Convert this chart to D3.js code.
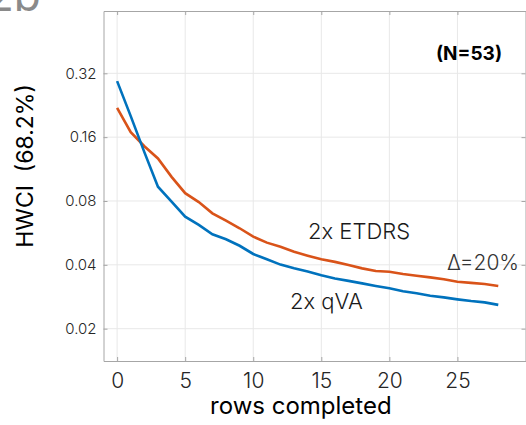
<!DOCTYPE html>
<html>
<head>
<meta charset="utf-8">
<script src="https://cdn.jsdelivr.net/npm/d3@7"></script>
<style>
    body { margin: 0; background: #fff; }
    text { font-family: Inter, "DejaVu Sans", sans-serif; }
</style>
</head>
<body>
<div id="dataviz"></div>
<script>
"use strict";

// Data
var rows = [0, 1, 2, 3, 4, 5, 6, 7, 8, 9, 10, 11, 12, 13, 14, 15, 16, 17, 18, 19, 20, 21, 22, 23, 24, 25, 26, 27, 28];
var qvaHwci = [0.294, 0.201, 0.136, 0.0934, 0.0794, 0.0675, 0.0617, 0.0557, 0.0528, 0.0492, 0.0450, 0.0425, 0.0401, 0.0385, 0.0372,
    0.0357, 0.0345, 0.0336, 0.0327, 0.0318, 0.0310, 0.0300, 0.0294, 0.0286, 0.0281, 0.0275, 0.0270, 0.0266, 0.0259];
var etdrsHwci = [0.220, 0.169, 0.145, 0.127, 0.104, 0.0871, 0.0791, 0.0700, 0.0646, 0.0595, 0.0543, 0.0509, 0.0487, 0.0461, 0.0442,
    0.0425, 0.0413, 0.0399, 0.0385, 0.0374, 0.0371, 0.0362, 0.0355, 0.0349, 0.0342, 0.0333, 0.0329, 0.0325, 0.0318];
var xTicks = [0, 5, 10, 15, 20, 25];
var yTicks = [0.02, 0.04, 0.08, 0.16, 0.32];
var yTickLabels = ["0.02", "0.04", "0.08", "0.16", "0.32"];

function renderChart(){

    var datavizBox = d3.select("#dataviz");

    var margin = { top: 11, right: 0.5, bottom: 64, left: 103.5 };
    var width = 422;
    var height = 350;

    var svg = datavizBox.append("svg")
        .attr("width", 526)
        .attr("height", 425);

    // panel letter, cut off at the top like in the source figure
    svg.append("text")
        .attr("x", -13)
        .attr("y", 11)
        .attr("font-size", 44)
        .attr("fill", "#8a8a8a")
        .text("2b");

    var g = svg.append("g")
        .attr("transform", "translate(" + margin.left + "," + margin.top + ")");

    // Scales
    var xScale = d3.scaleLinear().domain([-1, 30]).range([0, width]);
    var yScale = d3.scaleLog().base(2).domain([0.01408, 0.6295]).range([height, 0]);

    // Grid
    g.append("g").selectAll("line")
        .data(xTicks)
        .enter().append("line")
        .attr("x1", function (d) { return xScale(d); })
        .attr("x2", function (d) { return xScale(d); })
        .attr("y1", 0)
        .attr("y2", height)
        .attr("stroke", "#e8e8e8")
        .attr("stroke-width", 1);

    g.append("g").selectAll("line")
        .data(yTicks)
        .enter().append("line")
        .attr("x1", 0)
        .attr("x2", width)
        .attr("y1", function (d) { return yScale(d); })
        .attr("y2", function (d) { return yScale(d); })
        .attr("stroke", "#e8e8e8")
        .attr("stroke-width", 1);

    // Axes (ticks inside, box all round)
    var xAxis = d3.axisBottom(xScale).tickValues(xTicks).tickSizeInner(-4).tickSizeOuter(0).tickPadding(12);
    var xAxisTop = d3.axisTop(xScale).tickValues(xTicks).tickSizeInner(-4).tickSizeOuter(0).tickFormat("");
    var yAxis = d3.axisLeft(yScale).tickValues(yTicks).tickSizeInner(-4).tickSizeOuter(0).tickPadding(7)
        .tickFormat(function (d, i) { return yTickLabels[i]; });
    var yAxisRight = d3.axisRight(yScale).tickValues(yTicks).tickSizeInner(-4).tickSizeOuter(0).tickFormat("");

    var gx = g.append("g")
        .attr("transform", "translate(0," + height + ")")
        .call(xAxis);
    var gxt = g.append("g").call(xAxisTop);
    var gy = g.append("g").call(yAxis);
    var gyr = g.append("g")
        .attr("transform", "translate(" + width + ",0)")
        .call(yAxisRight);

    [gx, gxt, gy, gyr].forEach(function (a) {
        a.select(".domain").attr("stroke", "#a6a6a6");
        a.selectAll(".tick line").attr("stroke", "#a6a6a6");
    });
    gx.selectAll(".tick text")
        .attr("font-size", 21)
        .attr("font-weight", 300)
        .attr("fill", "#262626");
    gy.selectAll(".tick text")
        .attr("font-size", 15)
        .attr("font-weight", 300)
        .attr("fill", "#262626");

    // Lines
    var lineHwci = d3.line()
        .x(function (d, i) { return xScale(rows[i]); })
        .y(function (d) { return yScale(d); });

    g.append("path")
        .datum(etdrsHwci)
        .attr("d", lineHwci)
        .attr("fill", "none")
        .attr("stroke", "#D95319")
        .attr("stroke-width", 2.6);

    g.append("path")
        .datum(qvaHwci)
        .attr("d", lineHwci)
        .attr("fill", "none")
        .attr("stroke", "#0072BD")
        .attr("stroke-width", 2.6);

    // Annotations
    svg.append("text")
        .attr("x", 469)
        .attr("y", 60)
        .attr("text-anchor", "middle")
        .attr("font-size", 19)
        .attr("font-weight", 700)
        .attr("fill", "#000")
        .text("(N=53)");

    svg.append("text")
        .attr("x", 308)
        .attr("y", 238.5)
        .attr("font-size", 22)
        .attr("font-weight", 300)
        .attr("fill", "#1a1a1a")
        .text("2x ETDRS");

    svg.append("text")
        .attr("x", 290)
        .attr("y", 309)
        .attr("font-size", 22)
        .attr("font-weight", 300)
        .attr("fill", "#1a1a1a")
        .text("2x qVA");

    svg.append("text")
        .attr("x", 447)
        .attr("y", 270)
        .attr("font-size", 21)
        .attr("font-weight", 300)
        .attr("fill", "#333")
        .text("\u0394=20%");

    // Axis labels
    svg.append("text")
        .attr("x", margin.left + xScale(13.5))
        .attr("y", 414)
        .attr("text-anchor", "middle")
        .attr("font-size", 24)
        .attr("font-weight", 400)
        .attr("fill", "#000")
        .text("rows completed");

    svg.append("text")
        .attr("transform", "translate(" + 33 + "," + 166 + ")rotate(-90)")
        .attr("text-anchor", "middle")
        .attr("font-size", 23)
        .attr("font-weight", 400)
        .attr("fill", "#000")
        .attr("xml:space", "preserve")
        .style("white-space", "pre")
        .text("HWCI  (68.2%)");
}

renderChart();
</script>
</body>
</html>
